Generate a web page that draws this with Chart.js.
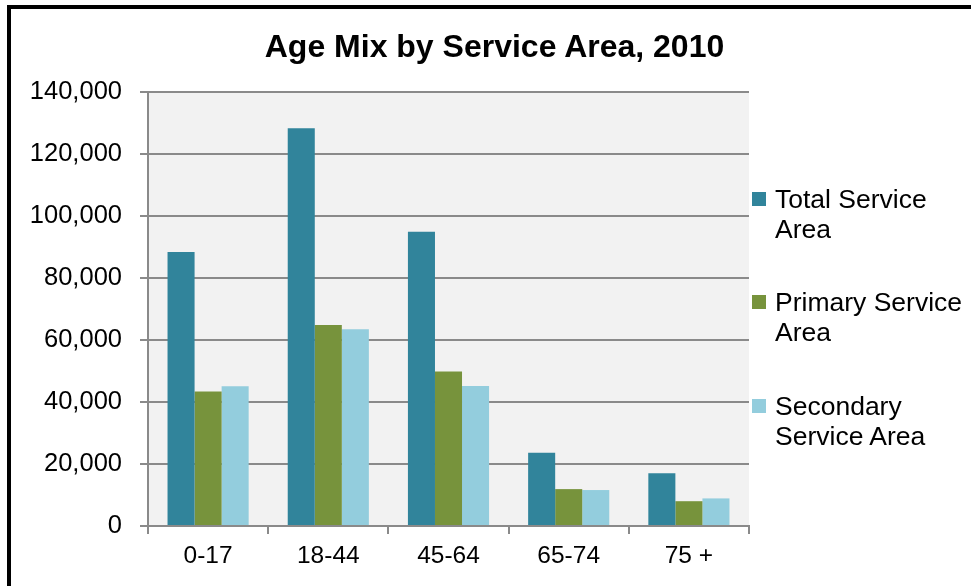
<!DOCTYPE html>
<html>
<head>
<meta charset="utf-8">
<title>Age Mix by Service Area, 2010</title>
<script src="https://cdn.jsdelivr.net/npm/chart.js@4/dist/chart.umd.min.js"></script>
<style>
  html, body { margin: 0; padding: 0; background: #fff; }
  #wrap { position: relative; width: 971px; height: 586px; overflow: hidden; font-family: "Liberation Sans", Arial, sans-serif; }
  #frame { position: absolute; left: 7px; top: 5px; width: 1000px; height: 1000px; border-left: 4px solid #000; border-top: 4px solid #000; box-sizing: border-box; }
  #chartTitle { position: absolute; left: 0; width: 989px; top: 28px; text-align: center; font-weight: bold; font-size: 32px; line-height: 37px; color: #000; }
  #legend { position: absolute; left: 752px; top: 0; }
  .item { position: absolute; left: 0; width: 215px; }
  .item .box { position: absolute; left: 0; width: 14px; height: 14px; }
  .item .txt { position: absolute; left: 23px; font-size: 26.5px; line-height: 30px; color: #000; white-space: nowrap; }
  canvas { position: absolute; left: 0; top: 0; }
</style>
</head>
<body>
<div id="wrap">
  <div id="frame"></div>
  <canvas id="ageChart" width="971" height="586"></canvas>
  <div id="chartTitle">Age Mix by Service Area, 2010</div>
  <div id="legend"></div>
</div>
<script>
// ช่วงอายุ
const ageGroups = ['0-17', '18-44', '45-64', '65-74', '75 +'];

// จำนวนประชากรแต่ละพื้นที่บริการ
const totalArea = [88400, 128300, 94900, 23600, 17000];
const primaryArea = [43400, 64800, 49800, 11900, 8000];
const secondaryArea = [45100, 63500, 45200, 11600, 8900];

const seriesNames = [['Total Service', 'Area'], ['Primary Service', 'Area'], ['Secondary', 'Service Area']];
const seriesColors = ['#31849B', '#77933C', '#93CDDD'];

const yTicks = [0, 20000, 40000, 60000, 80000, 100000, 120000, 140000];

const gridGray = '#8A8A8A';
const fontFamily = '"Liberation Sans", Arial, sans-serif';

// พื้นหลังสีเทาของพื้นที่กราฟ
const plotBackground = {
    id: 'plotBackground',
    beforeDraw(chart) {
        const { ctx, chartArea } = chart;
        ctx.save();
        ctx.fillStyle = '#F2F2F2';
        ctx.fillRect(chartArea.left, chartArea.top, chartArea.right - chartArea.left, chartArea.bottom - chartArea.top);
        ctx.restore();
    }
};

const ctx = document.getElementById('ageChart').getContext('2d');

const ageChart = new Chart(ctx, {
    type: 'bar',
    data: {
        labels: ageGroups,
        datasets: [totalArea, primaryArea, secondaryArea].map((values, i) => ({
            label: seriesNames[i].join(' '),
            data: values,
            backgroundColor: seriesColors[i],
            borderWidth: 0,
            categoryPercentage: 0.675,
            barPercentage: 1.0
        }))
    },
    options: {
        responsive: false,
        animation: false,
        layout: {
            padding: { top: 92, right: 222, left: 0, bottom: 0 }
        },
        plugins: {
            legend: { display: false },
            title: { display: false },
            tooltip: { enabled: false }
        },
        scales: {
            x: {
                grid: {
                    offset: true,
                    drawOnChartArea: false,
                    drawTicks: true,
                    tickLength: 8,
                    color: gridGray,
                    lineWidth: 2
                },
                border: { display: true, color: gridGray, width: 2 },
                ticks: {
                    color: '#000',
                    font: { family: fontFamily, size: 24.5 },
                    padding: 8,
                    maxRotation: 0
                },
                afterFit(scale) {
                    scale.height = 60;
                }
            },
            y: {
                min: 0,
                max: 140000,
                afterBuildTicks(scale) {
                    scale.ticks = yTicks.map(v => ({ value: v }));
                },
                grid: {
                    drawTicks: true,
                    tickLength: 8,
                    color: gridGray,
                    lineWidth: 2
                },
                border: { display: true, color: gridGray, width: 2 },
                ticks: {
                    color: '#000',
                    font: { family: fontFamily, size: 25.5 },
                    padding: 18,
                    callback: value => value.toLocaleString('en-US')
                },
                afterFit(scale) {
                    scale.width = 148;
                }
            }
        }
    },
    plugins: [plotBackground]
});

// คำอธิบายสัญลักษณ์ (ข้อความสองบรรทัด)
const legendEl = document.getElementById('legend');
const legendCenters = [214, 317, 421];
seriesNames.forEach((lines, i) => {
    const item = document.createElement('div');
    item.className = 'item';
    item.style.top = (legendCenters[i] - 30) + 'px';
    const box = document.createElement('div');
    box.className = 'box';
    box.style.background = seriesColors[i];
    box.style.top = '8px';
    const txt = document.createElement('div');
    txt.className = 'txt';
    txt.innerHTML = lines.join('<br>');
    item.appendChild(box);
    item.appendChild(txt);
    legendEl.appendChild(item);
});
</script>
</body>
</html>
